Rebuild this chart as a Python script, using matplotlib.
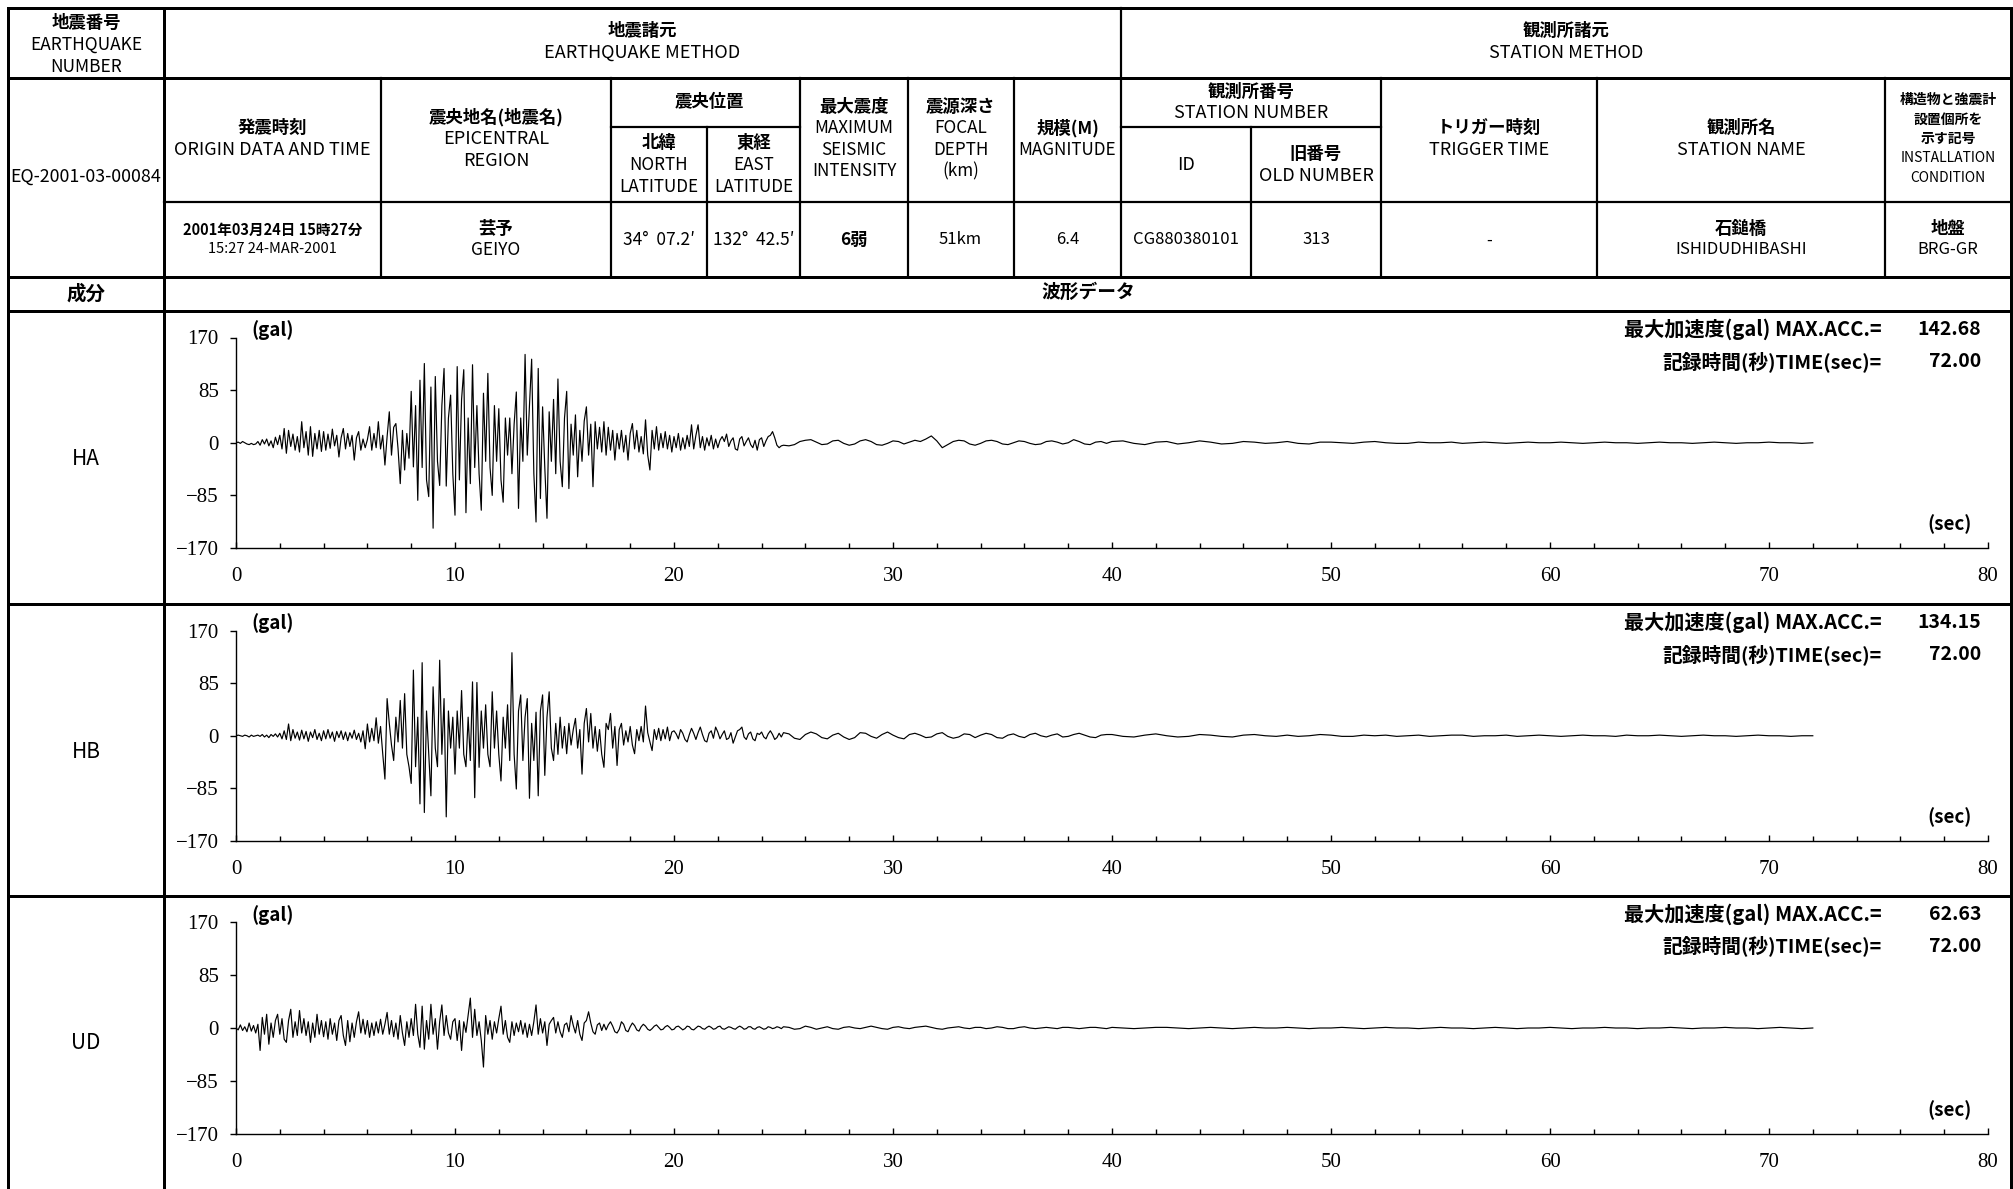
import numpy as np
import matplotlib
matplotlib.use("Agg")
import matplotlib.pyplot as plt
from matplotlib.ticker import MultipleLocator

plt.rcParams['font.family'] = ['Noto Sans CJK JP', 'DejaVu Sans']

# ------------------------------------------------------------------ data
components = ["HA", "HB", "UD"]
max_acc = ["142.68", "134.15", "62.63"]
record_time = ["72.00", "72.00", "72.00"]
x_ticks = [0, 10, 20, 30, 40, 50, 60, 70, 80]
y_ticks = [-170, -85, 0, 85, 170]
y_tick_labels = ["\u2212170", "\u221285", "0", "85", "170"]

dt_fast, dt_mid, dt_slow = 0.1, 0.25, 0.5
t_mid_start, t_slow_start = 25.0, 40.0

# HA (gal) 0-25 s every 0.1 s
ha_fast = [
    0, 1, -1, 2, 0, -2, -3, -1, -3, -2,
    2, -4, 5, -2, 6, -5, 3, -8, 9, -3,
    12, -10, 23, -17, 20, -6, 14, -12, 10, -15,
    34, -8, 18, -20, 26, -22, 15, -10, 20, -14,
    18, -12, 14, -9, 22, -5, 12, -23, 8, 23,
    -10, 15, -6, 12, -28, 8, 18, -12, 6, -8,
    5, 26, -12, 15, -8, 34, -10, 12, -36, 10,
    50, -20, 25, 31, -10, -66, 20, -44, 15, -25,
    83, -39, 60, -93, 101, -40, 128, -60, -87, 90,
    -138, 107, -30, -69, 60, 120, -70, 40, 77, -50,
    -117, 123, -60, 70, 118, -113, 40, -66, 126, -40,
    60, -50, -109, 80, -30, 112, -40, -85, 60, -30,
    55, -60, -96, 40, -20, 40, -50, 30, 82, -106,
    40, -30, 142.68, -20, 60, 135, -50, -128, 120, -90,
    58, -40, -122, 50, -30, 70, -50, 103, -30, -71,
    40, 83, -74, 30, -20, 45, -55, 20, -30, 35,
    58, -20, 30, -71, 34, -10, 25, -15, 34, -20,
    25, -12, 20, -28, 15, -10, 20, -15, 12, -28,
    15, 31, -10, 20, -15, 10, -18, 37, -20, -44,
    20, -10, 26, -12, 15, -8, 18, -10, 12, -15,
    10, -8, 15, -12, 8, -10, 12, -6, 29, -10,
    12, 29, -8, 10, -12, 8, -5, 12, -10, 6,
    -8, 4, 10, 2, 14, -6, 3, 8, -10, -12,
    6, 10, -5, 2, 8, -3, -8, 4, -12, 5,
    8, -6, 3, 10, 12, 18, 8, -4, -8, -5,
]
# HA 25-40 s every 0.25 s
ha_mid = [
    -4, -5, -3, 2, 4, 5, 1, -3, -2, 3, 4, -1,
    -4, -2, 3, 5, 2, -3, -4, -1, 3, 2, -2, 1,
    4, 2, 6, 11, 3, -8, -3, 2, 4, 3, -2, -4,
    -1, 3, 4, 2, -2, -3, 0, 3, 2, -1, -3, -2,
    2, 3, 1, -2, 0, 5, 2, -2, -3, 1, 2, -1,
]
# HA 40-72 s every 0.5 s
ha_slow = [
    2, 3, -1, -3, 1, 2, -2, 0, 3, 1,
    -2, -1, 2, 1, -1, 0, 2, -1, -2, 1,
    1, 0, -1, 1, 2, 0, -1, -1, 1, 0,
    0, 1, -1, 0, 1, 0, -1, 0, 1, 0,
    0, 1, 0, -1, 0, 1, 0, 0, -1, 0,
    1, 0, 0, -1, 0, 1, 0, -1, 0, 0,
    1, 0, 0, -1, 0,
]

# HB (gal)
hb_fast = [
    0, 1, 0, -1, 1, 0, -2, 1, -1, 0,
    1, -1, 2, -2, 1, -3, 2, -1, 3, -2,
    4, -5, 8, -6, 19, -8, 10, -4, 6, -7,
    9, -5, 7, -9, 6, -3, 10, -6, 4, -8,
    8, -5, 10, -4, 6, -9, 7, -3, 8, -6,
    6, -8, 5, -4, 9, -6, 4, -10, 8, -21,
    19, -10, 12, -8, 29, -12, 15, -29, -70, 60,
    20, -15, -40, 30, -10, 57, -20, 68, -30, -50,
    -77, 106, -50, 30, -110, 118, -124, 40, -30, -97,
    79, -20, -50, 122, -30, 60, -131, 40, -20, 30,
    -62, 40, -20, 73, -30, -50, 30, -40, 87, -100,
    86, -51, 40, -20, 50, -30, -50, 71, -20, 40,
    -30, -73, 30, -20, 50, -40, 134.15, -30, -86, 40,
    66, -40, 30, 60, -101, 20, -40, 38, -97, 40,
    66, -64, 30, 71, -20, -40, 20, -30, 30, -20,
    15, -29, 20, -15, 10, 28, -20, 10, -62, 20,
    44, -10, 36, -20, 15, -25, 10, -30, -51, 20,
    10, 36, -20, 15, -48, 10, 20, -15, 8, -10,
    15, -15, -29, 10, -8, 15, -10, 48, 5, -10,
    -24, 10, -6, 12, -8, 10, -5, 14, -8, 6,
    8, 3, -5, 10, 4, -6, -10, 2, 12, 4,
    -6, 5, 14, 2, -8, -10, 4, 8, -4, 14,
    6, -5, 2, 8, -6, -4, 5, -12, -2, 8,
    10, 14, -2, -6, 3, 6, -5, -8, 4, 2,
    6, -2, -5, 3, 8, 2, -6, -3, 4, -2,
]
hb_mid = [
    5, 3, -4, -6, 2, 6, 3, -3, -5, 1, 4, -2,
    -6, -3, 5, 4, -1, -4, 2, 6, 1, -3, -5, 2,
    4, 1, -3, -2, 3, 5, -1, -4, -2, 3, 2, -3,
    1, 4, 2, -3, -4, 1, 3, -1, -3, 2, 4, 0,
    -2, 1, 3, -2, -1, 2, 4, 1, -2, -3, 1, 2,
]
hb_slow = [
    2, -1, -2, 1, 3, 0, -2, -1, 2, 1,
    -1, -2, 1, 2, 0, -1, 1, -1, 0, 2,
    1, -1, -1, 1, 0, 1, -1, 0, 1, -1,
    0, 1, 1, -1, 0, 0, 1, -1, 0, 1,
    0, -1, 0, 1, 0, 0, -1, 1, 0, 0,
    1, 0, -1, 0, 1, 0, 0, -1, 0, 1,
    0, 0, -1, 0, 0,
]

# UD (gal)
ud_fast = [
    0, -3, 5, -4, 2, -6, 8, -5, 4, -8,
    6, -36, 17, -10, 22, -26, 8, -15, 12, 22,
    -10, 15, -18, -23, 12, 30, -15, 10, -12, 28,
    -8, 15, -12, 10, -23, 8, -15, 22, -10, 12,
    -14, 10, -18, 15, -10, 8, -20, 12, 20, -12,
    -28, 12, -22, 8, -15, 10, 26, -8, 14, -10,
    12, -15, 8, -12, 10, -8, 14, -10, 6, 25,
    -10, 12, -14, 8, -18, 20, -8, -28, 10, -15,
    15, -12, 38, -10, -31, 35, -34, 12, -18, 38,
    -10, 15, -34, 10, 37, -12, 20, -8, -18, 10,
    15, -20, 12, -36, 10, -7, 20, 48, -15, 30,
    -12, 10, -20, -62.63, 20, -10, 12, -18, 10, -8,
    15, 35, -10, 12, -15, -23, 10, -12, 8, -6,
    12, -10, 8, -15, 6, -12, 10, 37, -10, 15,
    -8, 10, -28, 6, 12, 17, -8, 10, -6, -15,
    5, 8, -6, 20, 4, -8, 12, -10, -20, 8,
    12, 26, 8, -6, -10, 5, 8, -4, 6, -3,
    5, 10, 3, -6, -8, -2, 10, 6, -4, -6,
    2, 8, 4, -3, -5, 2, 6, 3, -2, -4,
    -1, 3, 5, 1, -3, -2, 2, 4, 1, -3,
    -2, 2, 3, 0, -3, -1, 3, 2, -2, -3,
    0, 3, 2, -1, -2, 1, 3, 1, -2, -1,
    2, 3, -1, -2, 0, 2, 1, -1, -2, 1,
    3, 1, -2, -1, 2, 2, -1, -2, 1, 2,
    0, -2, -1, 2, 1, -1, 0, 2, 1, -1,
]
ud_mid = [
    2, 1, -2, -1, 3, 1, -2, 0, 2, -1, -2, 1,
    2, 0, -1, 1, 3, 1, -1, -2, 1, 2, 0, -1,
    1, 2, 3, 1, -1, -2, 0, 1, 2, 0, -1, 1,
    1, -1, 0, 2, 1, -1, -1, 1, 2, 0, -1, 0,
    1, 0, -1, 1, 1, 0, -1, 0, 1, 1, 0, -1,
]
ud_slow = [
    1, 0, -1, 0, 1, 1, 0, -1, 0, 1,
    0, -1, 0, 1, 0, 0, 1, 0, -1, 0,
    0, 1, 0, -1, 0, 1, 0, 0, -1, 0,
    1, 0, 0, -1, 0, 1, 0, -1, 0, 0,
    1, 0, -1, 0, 0, 1, 0, 0, -1, 0,
    0, 1, 0, -1, 0, 0, 1, 0, 0, -1,
    0, 1, 0, -1, 0,
]

traces = [(ha_fast, ha_mid, ha_slow), (hb_fast, hb_mid, hb_slow),
          (ud_fast, ud_mid, ud_slow)]


def build(fast, mid, slow):
    t = np.concatenate([np.arange(len(fast)) * dt_fast,
                        t_mid_start + np.arange(len(mid)) * dt_mid,
                        t_slow_start + np.arange(len(slow)) * dt_slow])
    v = np.concatenate([np.asarray(fast, float), np.asarray(mid, float),
                        np.asarray(slow, float)])
    return t, v


# ------------------------------------------------------------------ figure
W, H = 2013, 1189
fig = plt.figure(figsize=(W / 100, H / 100), dpi=100)
bg = fig.add_axes([0, 0, 1, 1])
bg.set_xlim(0, W)
bg.set_ylim(H, 0)
bg.axis('off')

PX = 0.72  # points per pixel


def hline(y, x0, x1, lw=2.2):
    bg.plot([x0, x1], [y, y], color='black', lw=lw * PX, solid_capstyle='projecting')


def vline(x, y0, y1, lw=2.2):
    bg.plot([x, x], [y0, y1], color='black', lw=lw * PX, solid_capstyle='projecting')


def is_cjk(s):
    return any(ord(c) >= 0x3000 for c in s)


def cell(xc, yc, lines, size=13, gap=21.5, cjk_size=None):
    n = len(lines)
    for i, line in enumerate(lines):
        y = yc + (i - (n - 1) / 2) * gap
        cj = is_cjk(line)
        bg.text(xc, y, line, ha='center', va='center',
                fontsize=(cjk_size or 12.5) if cj else size,
                fontweight='bold' if cj else 'normal', color='black')


L, R = 8, 2011
# horizontal rules
for y in (8, 78, 277, 311, 604, 896):
    hline(y, L, R, lw=3.0)
hline(202, 164, R)
hline(127, 611, 800)
hline(127, 1121, 1381)
# vertical rules
vline(L, 8, H, lw=3.0)
vline(164, 8, H, lw=3.0)
vline(R, 8, H, lw=3.0)
vline(1121, 8, 277)
for x in (381, 611, 800, 907.5, 1014, 1381, 1597, 1885):
    vline(x, 78, 277)
vline(707, 127, 277)
vline(1251, 127, 277)

# header row 1
cell(86, 45, ["地震番号", "EARTHQUAKE", "NUMBER"], size=12.5, gap=22)
cell(642, 42, ["地震諸元", "EARTHQUAKE METHOD"], gap=22)
cell(1566, 42, ["観測所諸元", "STATION METHOD"], gap=22)

# header row 2
cell(86, 177, ["EQ-2001-03-00084"], size=12.8)
cell(272.5, 139, ["発震時刻", "ORIGIN DATA AND TIME"], gap=22)
cell(496, 139, ["震央地名(地震名)", "EPICENTRAL", "REGION"])
cell(709, 102, ["震央位置"])
cell(659, 165, ["北緯", "NORTH", "LATITUDE"], size=12.3, gap=22)
cell(754, 165, ["東経", "EAST", "LATITUDE"], size=12.3, gap=22)
cell(854, 139, ["最大震度", "MAXIMUM", "SEISMIC", "INTENSITY"], size=12.3)
cell(960.5, 139, ["震源深さ", "FOCAL", "DEPTH", "(km)"], size=12.3)
cell(1067.5, 139, ["規模(M)", "MAGNITUDE"], size=12.3, gap=22)
cell(1251, 102, ["観測所番号", "STATION NUMBER"], gap=21)
cell(1186, 165, ["ID"])
cell(1316, 165, ["旧番号", "OLD NUMBER"], gap=22)
cell(1489, 139, ["トリガー時刻", "TRIGGER TIME"], gap=22)
cell(1741, 139, ["観測所名", "STATION NAME"], gap=22)
cell(1948, 139, ["構造物と強震計", "設置個所を", "示す記号", "INSTALLATION", "CONDITION"],
     size=10, cjk_size=10, gap=19.5)

# header row 3 (values)
cell(272.5, 239.5, ["2001年03月24日 15時27分", "15:27 24-MAR-2001"], size=10.5,
     cjk_size=10.5, gap=19)
cell(496, 239.5, ["芸予", "GEIYO"], size=12.5, gap=21)
cell(659, 240, ["34°  07.2′"], size=12.5)
cell(754, 240, ["132°  42.5′"], size=12.5)
cell(854, 240, ["6弱"], size=12.5)
cell(960.5, 240, ["51km"], size=12)
cell(1067.5, 240, ["6.4"], size=12)
cell(1186, 240, ["CG880380101"], size=12)
cell(1316, 240, ["313"], size=12)
cell(1489, 240, ["-"], size=12)
cell(1741, 239.5, ["石鎚橋", "ISHIDUDHIBASHI"], size=12, gap=21)
cell(1948, 239.5, ["地盤", "BRG-GR"], size=12, gap=21)

# row 4
bg.text(86, 294, "成分", ha='center', va='center', fontsize=14, fontweight='bold')
bg.text(1088, 292, "波形データ", ha='center', va='center', fontsize=13.5, fontweight='bold')

# ------------------------------------------------------------------ waveform panels
label_y = [459, 752, 1043]
axes_box = [(337.5, 548.0), (630.5, 841.0), (922.0, 1134.0)]
x_left, x_right = 236.0, 1988.0
serif = 'Liberation Serif'

for i, comp in enumerate(components):
    top, bot = axes_box[i]
    bg.text(86, label_y[i], comp, ha='center', va='center', fontsize=15)

    ax = fig.add_axes([x_left / W, 1 - bot / H, (x_right - x_left) / W, (bot - top) / H])
    ax.set_facecolor('none')
    t, v = build(*traces[i])
    ax.plot(t, v, color='black', lw=0.85)
    ax.set_xlim(0, 80)
    ax.set_ylim(-170, 170)
    for s in ('top', 'right'):
        ax.spines[s].set_visible(False)
    for s in ('left', 'bottom'):
        ax.spines[s].set_linewidth(1.0)
    ax.set_xticks(x_ticks)
    ax.set_xticklabels([str(v_) for v_ in x_ticks], fontfamily=serif, fontsize=15)
    ax.xaxis.set_minor_locator(MultipleLocator(2))
    ax.tick_params(axis='x', which='major', direction='in', length=4.5, width=1.0, pad=14)
    ax.tick_params(axis='x', which='minor', direction='in', length=3.5, width=1.0)
    ax.set_yticks(y_ticks)
    ax.set_yticklabels(y_tick_labels, fontfamily=serif, fontsize=15)
    ax.tick_params(axis='y', direction='out', length=4.5, width=1.0, pad=8)

    bg.text(251, top - 7, "(gal)", ha='left', va='center', fontsize=13.5, fontweight='bold')
    bg.text(1882, top - 8, "最大加速度(gal) MAX.ACC.=", ha='right', va='center',
            fontsize=14.5, fontweight='bold')
    bg.text(1981, top - 8, max_acc[i], ha='right', va='center', fontsize=14,
            fontweight='bold')
    bg.text(1882, top + 24, "記録時間(秒)TIME(sec)=", ha='right', va='center',
            fontsize=14.2, fontweight='bold')
    bg.text(1981, top + 24, record_time[i], ha='right', va='center', fontsize=14,
            fontweight='bold')
    bg.text(1950, bot - 24, "(sec)", ha='center', va='center', fontsize=13.5,
            fontweight='bold')

fig.savefig("out.png", dpi=100)
